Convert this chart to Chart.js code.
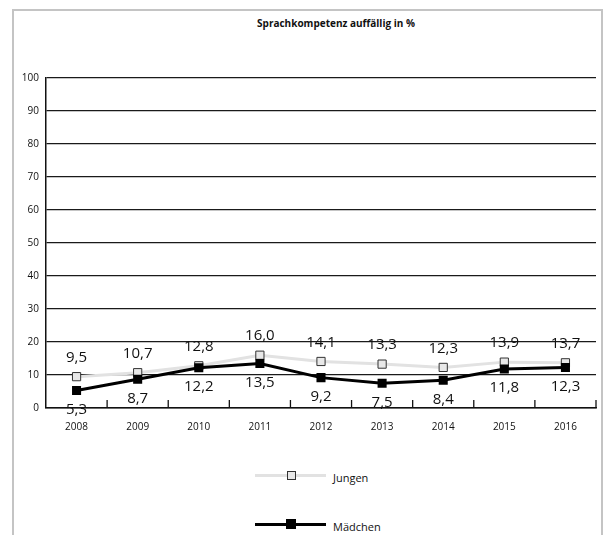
<!DOCTYPE html>
<html>
<head>
<meta charset="utf-8">
<script src="https://cdn.jsdelivr.net/npm/chart.js@4"></script>
<style>
  html, body { margin: 0; padding: 0; background: #fff; }
  body { width: 603px; height: 535px; position: relative; overflow: hidden; font-family: "Open Sans", "Noto Sans", sans-serif; }
  #frame { position: absolute; left: 12px; top: 9px; width: 587px; height: 540px;
           border-left: 2px solid #c4c4c4; border-top: 2px solid #c4c4c4; border-right: 2px solid #c4c4c4; }
  #title { position: absolute; left: 236px; width: 200px; top: 16px; text-align: center;
           font: bold 10px "Open Sans", sans-serif; color: #111; }
  #wrap { position: absolute; left: 13px; top: 10px; width: 590px; height: 430px; }
  .leg { position: absolute; left: 255px; height: 20px; width: 200px; }
  .leg .ln { position: absolute; left: 0; width: 71px; height: 3px; top: 8px; }
  .leg .mk { position: absolute; box-sizing: border-box; }
  .leg .tx { position: absolute; left: 78px; top: 4px; font-size: 11px; color: #111; }
</style>
</head>
<body>
<div id="frame"></div>
<div id="title">Sprachkompetenz auffällig in %</div>
<div id="wrap"><canvas id="chart" width="590" height="430"></canvas></div>
<div class="leg" style="top:466px">
  <div class="ln" style="background:#e2e2e2"></div>
  <div class="mk" style="left:32px;top:5px;width:9px;height:9px;background:#e8e8e8;border:1px solid #333"></div>
  <div class="tx">Jungen</div>
</div>
<div class="leg" style="top:515px">
  <div class="ln" style="background:#000"></div>
  <div class="mk" style="left:31px;top:4px;width:10px;height:10px;background:#000"></div>
  <div class="tx">Mädchen</div>
</div>
<script>
const years = ['2008', '2009', '2010', '2011', '2012', '2013', '2014', '2015', '2016']
const jungen = [9.5, 10.7, 12.8, 16.0, 14.1, 13.3, 12.3, 13.9, 13.7]
const maedchen = [5.3, 8.7, 12.2, 13.5, 9.2, 7.5, 8.4, 11.8, 12.3]

// short tick marks pointing up into the plot, between the categories
const innerTicks = {
  id: 'innerTicks',
  beforeDatasetsDraw(chart) {
    const x = chart.scales.x, ctx = chart.ctx
    const half = (x.getPixelForValue(1) - x.getPixelForValue(0)) / 2
    ctx.save()
    ctx.strokeStyle = '#111'
    ctx.lineWidth = 1.3
    for (let i = 0; i < years.length; i++) {
      const px = x.getPixelForValue(i) + half
      ctx.beginPath()
      ctx.moveTo(px, chart.chartArea.bottom)
      ctx.lineTo(px, chart.chartArea.bottom - 8)
      ctx.stroke()
    }
    ctx.restore()
  }
}

// value labels: Jungen above, Mädchen below
const valueLabels = {
  id: 'valueLabels',
  afterDatasetsDraw(chart) {
    const ctx = chart.ctx
    ctx.save()
    ctx.font = '15px "Open Sans", sans-serif'
    ctx.fillStyle = '#111'
    ctx.textAlign = 'center'
    ctx.textBaseline = 'middle'
    chart.data.datasets.forEach((ds, di) => {
      const meta = chart.getDatasetMeta(di)
      meta.data.forEach((pt, i) => {
        const txt = ds.data[i].toFixed(1).replace('.', ',')
        ctx.fillText(txt, pt.x, pt.y + ds.labelShift)
      })
    })
    ctx.restore()
  }
}

new Chart(document.getElementById('chart'), {
  type: 'line',
  data: {
    labels: years,
    datasets: [
      {
        label: 'Jungen',
        data: jungen,
        borderColor: '#e2e2e2',
        borderWidth: 3,
        pointStyle: 'rect',
        pointRadius: 5.8,
        pointBackgroundColor: '#e8e8e8',
        pointBorderColor: '#333',
        pointBorderWidth: 1,
        labelShift: -19,
        order: 2
      },
      {
        label: 'Mädchen',
        data: maedchen,
        borderColor: '#000',
        borderWidth: 3,
        pointStyle: 'rect',
        pointRadius: 6.4,
        pointBackgroundColor: '#000',
        pointBorderColor: '#000',
        pointBorderWidth: 0,
        labelShift: 19,
        order: 1
      }
    ]
  },
  options: {
    responsive: false,
    animation: false,
    layout: { padding: { top: 68, right: 7, left: 0, bottom: 0 } },
    plugins: {
      legend: { display: false },
      title: { display: false },
      tooltip: { enabled: false }
    },
    scales: {
      x: {
        offset: true,
        grid: { display: false, drawTicks: false },
        border: { display: true, color: '#111', width: 1.5 },
        ticks: { color: '#111', font: { size: 10, family: '"Open Sans", sans-serif' }, padding: 13, maxRotation: 0 },
        afterFit(s) { s.height = 32 }
      },
      y: {
        min: 0,
        max: 100,
        ticks: { stepSize: 10, color: '#111', padding: 7, font: { size: 10, family: '"Open Sans", sans-serif' } },
        grid: { color: '#1a1a1a', lineWidth: 1.3, drawTicks: false },
        border: { display: true, color: '#111', width: 1.5 },
        afterFit(s) { s.width = 33 }
      }
    }
  },
  plugins: [innerTicks, valueLabels]
})
</script>
</body>
</html>
